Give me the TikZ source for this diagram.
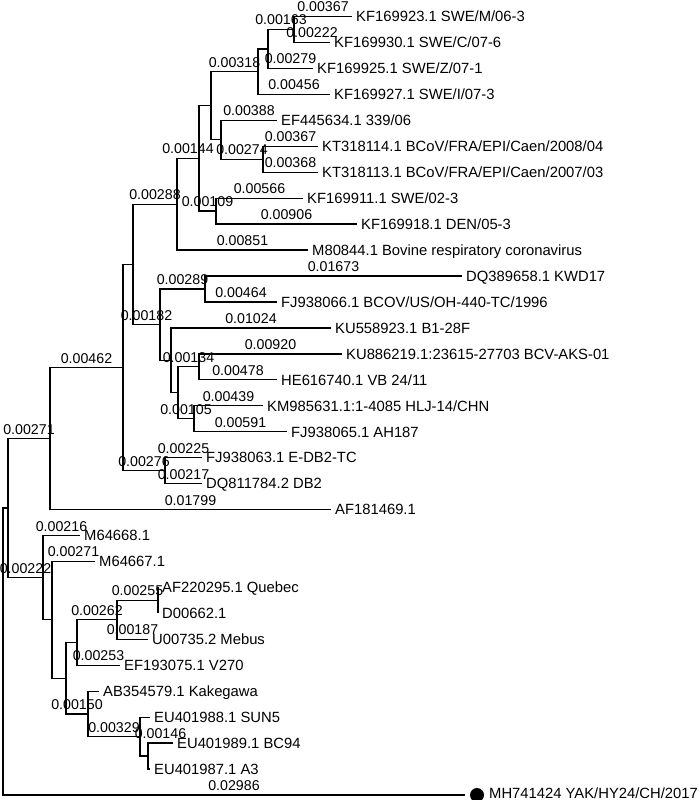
\documentclass[tikz,border=0pt]{standalone}
\usepackage{fontspec}
\setmainfont{Liberation Sans}
\newcommand\leaffont{\fontsize{14.8}{16}\selectfont}
\newcommand\labfont{\fontsize{14.2}{16}\selectfont}
\begin{document}
\begin{tikzpicture}[x=1pt,y=-1pt,
  br/.style={line width=1.3pt},
  lab/.style={pos=0.75, anchor=base, yshift=4.5pt, inner sep=0pt, font=\labfont},
  leaf/.style={anchor=base west, inner sep=0pt, xshift=4pt, yshift=-5.3pt, font=\leaffont}]
\useasboundingbox (0,0) rectangle (700,800);
% internal nodes
\coordinate (root) at (3,651.55);
\coordinate (A) at (8,508.1);
\coordinate (B) at (50,438.54);
\coordinate (D) at (123,367.53);
\coordinate (E) at (133,264.44);
\coordinate (G) at (177,204.23);
\coordinate (I) at (199,158.41);
\coordinate (K) at (211,105.7);
\coordinate (L) at (258,71.64);
\coordinate (O) at (268,48.94);
\coordinate (P) at (294,29.48);
\coordinate (M) at (221,139.76);
\coordinate (N) at (263,159.23);
\coordinate (J) at (216,211.13);
\coordinate (H) at (160,324.66);
\coordinate (Y) at (205,288.98);
\coordinate (Z) at (171,360.34);
\coordinate (AA) at (178,392.78);
\coordinate (BB) at (199,366.83);
\coordinate (CC) at (194,418.73);
\coordinate (F) at (165,470.63);
\coordinate (C) at (43,577.67);
\coordinate (X) at (52,619.84);
\coordinate (T) at (66,678.23);
\coordinate (S) at (77,642.55);
\coordinate (R) at (117,619.84);
\coordinate (Q) at (158,600.38);
\coordinate (U) at (88,713.9);
\coordinate (V) at (140,736.61);
\coordinate (W) at (148,756.08);
% leaf ends
\coordinate (e0) at (352,16.5);
\coordinate (e1) at (330,42.45);
\coordinate (e2) at (313,68.4);
\coordinate (e3) at (330,94.35);
\coordinate (e4) at (277,120.3);
\coordinate (e5) at (318,146.25);
\coordinate (e6) at (318,172.2);
\coordinate (e7) at (303,198.15);
\coordinate (e8) at (357,224.1);
\coordinate (e9) at (308,250.05);
\coordinate (e10) at (462,276.0);
\coordinate (e11) at (277,301.95);
\coordinate (e12) at (331,327.9);
\coordinate (e13) at (342,353.85);
\coordinate (e14) at (277,379.8);
\coordinate (e15) at (263,405.75);
\coordinate (e16) at (287,431.7);
\coordinate (e17) at (202,457.65);
\coordinate (e18) at (202,483.6);
\coordinate (e19) at (331,509.55);
\coordinate (e20) at (80,535.5);
\coordinate (e21) at (95,561.45);
\coordinate (e22) at (158,587.4);
\coordinate (e23) at (158,613.35);
\coordinate (e24) at (148,639.3);
\coordinate (e25) at (120,665.25);
\coordinate (e26) at (99,691.2);
\coordinate (e27) at (150,717.15);
\coordinate (e28) at (173,743.1);
\coordinate (e29) at (150,769.05);
\coordinate (e30) at (465,795.0);
% leaf texts
\node[leaf] (t0) at (e0) {KF169923.1 SWE/M/06-3};
\node[leaf] (t1) at (e1) {KF169930.1 SWE/C/07-6};
\node[leaf] (t2) at (e2) {KF169925.1 SWE/Z/07-1};
\node[leaf] (t3) at (e3) {KF169927.1 SWE/I/07-3};
\node[leaf] (t4) at (e4) {EF445634.1 339/06};
\node[leaf] (t5) at (e5) {KT318114.1 BCoV/FRA/EPI/Caen/2008/04};
\node[leaf] (t6) at (e6) {KT318113.1 BCoV/FRA/EPI/Caen/2007/03};
\node[leaf] (t7) at (e7) {KF169911.1 SWE/02-3};
\node[leaf] (t8) at (e8) {KF169918.1 DEN/05-3};
\node[leaf] (t9) at (e9) {M80844.1 Bovine respiratory coronavirus};
\node[leaf] (t10) at (e10) {DQ389658.1 KWD17};
\node[leaf] (t11) at (e11) {FJ938066.1 BCOV/US/OH-440-TC/1996};
\node[leaf] (t12) at (e12) {KU558923.1 B1-28F};
\node[leaf] (t13) at (e13) {KU886219.1:23615-27703 BCV-AKS-01};
\node[leaf] (t14) at (e14) {HE616740.1 VB 24/11};
\node[leaf] (t15) at (e15) {KM985631.1:1-4085 HLJ-14/CHN};
\node[leaf] (t16) at (e16) {FJ938065.1 AH187};
\node[leaf] (t17) at (e17) {FJ938063.1 E-DB2-TC};
\node[leaf] (t18) at (e18) {DQ811784.2 DB2};
\node[leaf] (t19) at (e19) {AF181469.1};
\node[leaf] (t20) at (e20) {M64668.1};
\node[leaf] (t21) at (e21) {M64667.1};
\node[leaf] (t22) at (e22) {AF220295.1 Quebec};
\node[leaf] (t23) at (e23) {D00662.1};
\node[leaf] (t24) at (e24) {U00735.2 Mebus};
\node[leaf] (t25) at (e25) {EF193075.1 V270};
\node[leaf] (t26) at (e26) {AB354579.1 Kakegawa};
\node[leaf] (t27) at (e27) {EU401988.1 SUN5};
\node[leaf] (t28) at (e28) {EU401989.1 BC94};
\node[leaf] (t29) at (e29) {EU401987.1 A3};
\node[circle, fill=black, minimum size=14pt, inner sep=0pt] (dot) at (477,795) {};
\node[anchor=base west, inner sep=0pt, font=\leaffont] (t30) at (489,798) {MH741424 YAK/HY24/CH/2017};
% branches
\draw[br] (root) |- (A);
\draw[br] (root) |- (e30) node[lab] {0.02986};
\draw[br] (A) |- (B) node[lab] {0.00271};
\draw[br] (A) |- (C) node[lab] {0.00222};
\draw[br] (B) |- (D) node[lab] {0.00462};
\draw[br] (B) |- (e19) node[lab] {0.01799};
\draw[br] (D) |- (E);
\draw[br] (D) |- (F) node[lab] {0.00276};
\draw[br] (E) |- (G) node[lab] {0.00288};
\draw[br] (E) |- (H) node[lab] {0.00182};
\draw[br] (G) |- (I) node[lab] {0.00144};
\draw[br] (G) |- (e9) node[lab] {0.00851};
\draw[br] (I) |- (K);
\draw[br] (I) |- (J) node[lab] {0.00109};
\draw[br] (K) |- (L) node[lab] {0.00318};
\draw[br] (K) |- (M);
\draw[br] (L) |- (O);
\draw[br] (L) |- (e3) node[lab] {0.00456};
\draw[br] (O) |- (P) node[lab] {0.00163};
\draw[br] (O) |- (e2) node[lab] {0.00279};
\draw[br] (P) |- (e0) node[lab] {0.00367};
\draw[br] (P) |- (e1) node[lab] {0.00222};
\draw[br] (M) |- (e4) node[lab] {0.00388};
\draw[br] (M) |- (N) node[lab] {0.00274};
\draw[br] (N) |- (e5) node[lab] {0.00367};
\draw[br] (N) |- (e6) node[lab] {0.00368};
\draw[br] (J) |- (e7) node[lab] {0.00566};
\draw[br] (J) |- (e8) node[lab] {0.00906};
\draw[br] (H) |- (Y) node[lab] {0.00289};
\draw[br] (H) |- (Z);
\draw[br] (Y) |- (e10) node[lab] {0.01673};
\draw[br] (Y) |- (e11) node[lab] {0.00464};
\draw[br] (Z) |- (e12) node[lab] {0.01024};
\draw[br] (Z) |- (AA);
\draw[br] (AA) |- (BB) node[lab] {0.00134};
\draw[br] (AA) |- (CC) node[lab] {0.00105};
\draw[br] (BB) |- (e13) node[lab] {0.00920};
\draw[br] (BB) |- (e14) node[lab] {0.00478};
\draw[br] (CC) |- (e15) node[lab] {0.00439};
\draw[br] (CC) |- (e16) node[lab] {0.00591};
\draw[br] (F) |- (e17) node[lab] {0.00225};
\draw[br] (F) |- (e18) node[lab] {0.00217};
\draw[br] (C) |- (e20) node[lab] {0.00216};
\draw[br] (C) |- (X);
\draw[br] (X) |- (e21) node[lab] {0.00271};
\draw[br] (X) |- (T);
\draw[br] (T) |- (S);
\draw[br] (T) |- (U) node[lab] {0.00150};
\draw[br] (S) |- (R) node[lab] {0.00262};
\draw[br] (S) |- (e25) node[lab] {0.00253};
\draw[br] (R) |- (Q) node[lab] {0.00255};
\draw[br] (R) |- (e24) node[lab] {0.00187};
\draw[br] (Q) |- (e22);
\draw[br] (Q) |- (e23);
\draw[br] (U) |- (e26);
\draw[br] (U) |- (V) node[lab] {0.00329};
\draw[br] (V) |- (e27);
\draw[br] (V) |- (W);
\draw[br] (W) |- (e28) node[lab] {0.00146};
\draw[br] (W) |- (e29);
\end{tikzpicture}
\end{document}
